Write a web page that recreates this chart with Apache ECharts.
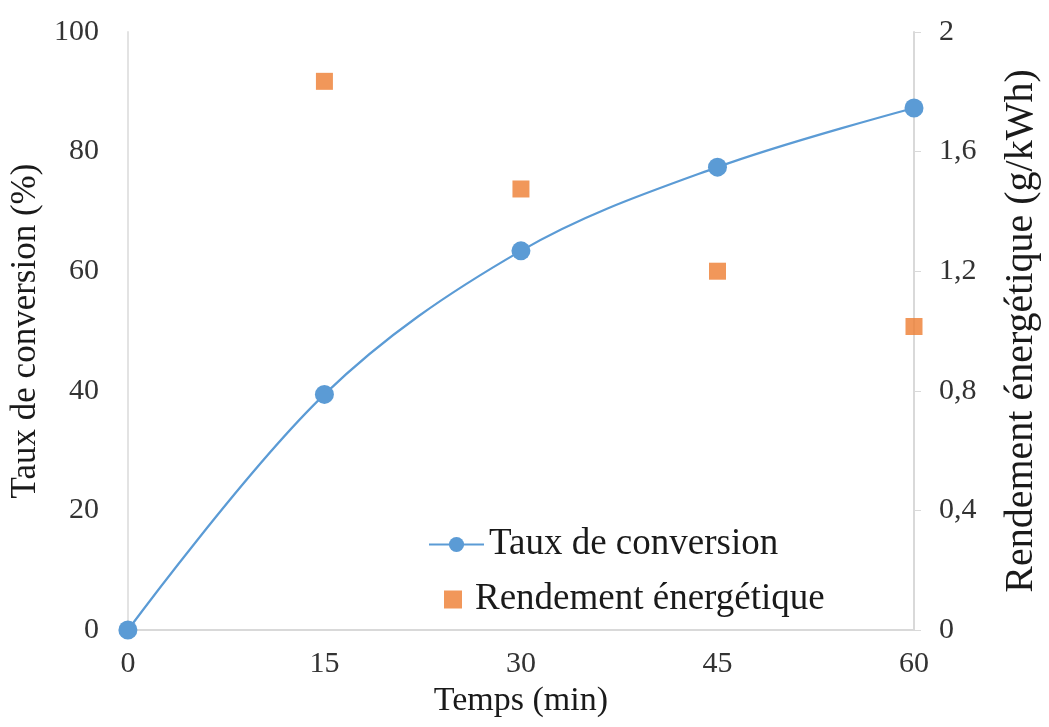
<!DOCTYPE html>
<html><head><meta charset="utf-8">
<script src="https://cdn.jsdelivr.net/npm/echarts@6/dist/echarts.min.js"></script>
<style>html,body{margin:0;padding:0;background:#fff;overflow:hidden}#c{width:1049px;height:727px}</style>
</head><body><div id="c"></div>
<script>
const times = [0, 15, 30, 45, 60];
const tauxConversion = [0, 39.4, 63.4, 77.4, 87.3];
const rendementTimes = [15, 30, 45, 60];
const rendement = [1.835, 1.475, 1.2, 1.015];
const leftTicks = [0, 20, 40, 60, 80, 100];
const rightTicks = ['0', '0,4', '0,8', '1,2', '1,6', '2'];

const FONT = 'Liberation Serif';
const chart = echarts.init(document.getElementById('c'));
chart.setOption({
  animation: false,
  textStyle: { fontFamily: FONT },
  grid: { left: 125, right: 128, top: 32, bottom: 97, containLabel: false },
  legend: [
    { data: ['Taux de conversion'], left: 423, top: 521, itemWidth: 55, itemHeight: 19, itemGap: 0,
      textStyle: { fontFamily: FONT, fontSize: 37, color: '#1a1a1a' } },
    { data: [{ name: 'Rendement énergétique', icon: 'rect' }], left: 439, top: 576, itemWidth: 18, itemHeight: 18,
      textStyle: { fontFamily: FONT, fontSize: 37, color: '#1a1a1a', padding: [0, 0, 0, 8] } }
  ],
  xAxis: {
    type: 'value', min: 0, max: 60, interval: 15,
    name: 'Temps (min)', nameLocation: 'middle', nameGap: 46,
    nameTextStyle: { fontFamily: FONT, fontSize: 34, color: '#1a1a1a' },
    axisLine: { lineStyle: { color: '#d9d9d9', width: 2 } },
    axisTick: { show: false },
    splitLine: { show: false },
    axisLabel: { fontFamily: FONT, fontSize: 30, color: '#333', margin: 19 }
  },
  yAxis: [
    {
      type: 'value', min: 0, max: 100, interval: 20,
      name: 'Taux de conversion (%)', nameLocation: 'middle', nameGap: 80, nameRotate: 90,
      nameTextStyle: { fontFamily: FONT, fontSize: 35, color: '#1a1a1a' },
      axisLine: { show: true, lineStyle: { color: '#e3e3e3', width: 2 } },
      axisTick: { show: false },
      splitLine: { show: false },
      axisLabel: { fontFamily: FONT, fontSize: 30, color: '#333', margin: 29,
        formatter: v => String(leftTicks[Math.round(v / 20)]) }
    },
    {
      type: 'value', min: 0, max: 2, interval: 0.4, position: 'right',
      name: 'Rendement énergétique (g/kWh)', nameLocation: 'middle', nameGap: 87, nameRotate: 90,
      nameTextStyle: { fontFamily: FONT, fontSize: 40, color: '#1a1a1a' },
      axisLine: { show: true, lineStyle: { color: '#d9d9d9', width: 2 } },
      axisTick: { show: true, inside: false, length: 7, lineStyle: { color: '#d9d9d9' } },
      splitLine: { show: false },
      axisLabel: { fontFamily: FONT, fontSize: 30, color: '#333', margin: 25,
        formatter: v => rightTicks[Math.round(v / 0.4)] }
    }
  ],
  series: [
    {
      name: 'Taux de conversion', type: 'line', yAxisIndex: 0, smooth: 0.35,
      data: times.map((t, i) => [t, tauxConversion[i]]),
      symbol: 'circle', symbolSize: 19,
      lineStyle: { color: '#5B9BD5', width: 2.2 },
      itemStyle: { color: '#5B9BD5' }
    },
    {
      name: 'Rendement énergétique', type: 'scatter', yAxisIndex: 1,
      data: rendementTimes.map((t, i) => [t, rendement[i]]),
      symbol: 'rect', symbolSize: 17,
      itemStyle: { color: '#ED7D31' }
    }
  ]
});
</script></body></html>
